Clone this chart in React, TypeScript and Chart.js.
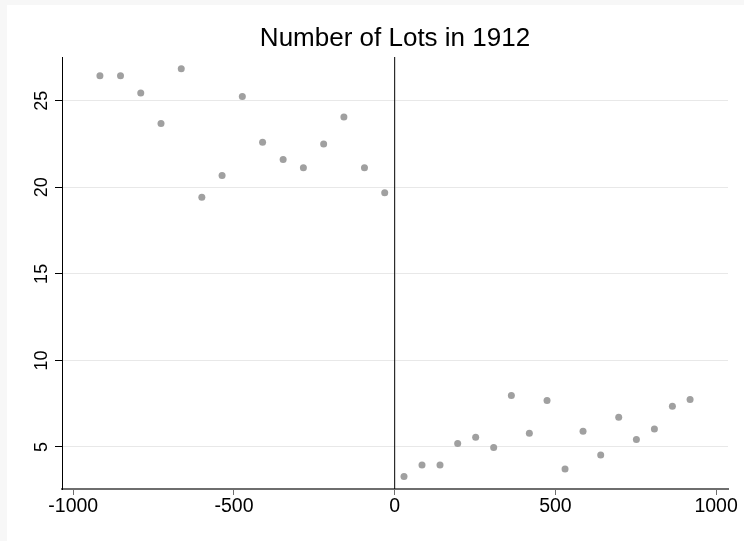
import React, { useEffect, useRef } from "react";
import { Chart, registerables } from "chart.js";

Chart.register(...registerables);

// Distance to the boundary (binned) and mean number of lots per bin
const distanceBins = [
  -917, -853, -790, -727, -664, -600, -537, -474, -411, -347, -284, -221, -158, -94, -31,
  29, 85, 141, 196, 252, 308, 363, 419, 474, 530, 586, 641, 697, 752, 808, 864, 919,
];
const lotCounts = [
  26.45, 26.45, 25.45, 23.69, 26.85, 19.42, 20.69, 25.25, 22.61, 21.61, 21.13, 22.51, 24.06, 21.13, 19.68,
  3.29, 3.96, 3.96, 5.2, 5.56, 4.97, 7.97, 5.79, 7.68, 3.73, 5.91, 4.54, 6.72, 5.43, 6.04, 7.35, 7.74,
];

const xTickValues = [-1000, -500, 0, 500, 1000];
const yTickValues = [5, 10, 15, 20, 25];
const xRange = [-1035, 1037];
const yRange = [2.57, 27.53];
const cutoff = 0;
const titleText = "Number of Lots in 1912";

const FONT = "'Liberation Sans', Arial, Helvetica, sans-serif";

export default function App() {
  const canvasRef = useRef<HTMLCanvasElement | null>(null);

  useEffect(() => {
    const canvas = canvasRef.current;
    if (!canvas) return;

    const points = distanceBins.map((x, i) => ({ x, y: lotCounts[i] }));

    const chart = new Chart(canvas, {
      type: "scatter",
      data: {
        datasets: [
          {
            label: "Lots",
            data: points,
            pointRadius: 3.5,
            pointHoverRadius: 3.5,
            pointBackgroundColor: "#a0a0a0",
            pointBorderWidth: 0,
            showLine: false,
            order: 1,
          },
          {
            type: "line",
            label: "Cutoff",
            data: [
              { x: cutoff, y: yRange[0] },
              { x: cutoff, y: yRange[1] },
            ],
            borderColor: "#000",
            borderWidth: 1,
            pointRadius: 0,
            showLine: true,
            order: 0,
          },
        ],
      },
      options: {
        responsive: false,
        animation: false,
        layout: { padding: { left: 0, top: 0, right: 16, bottom: 0 } },
        plugins: {
          legend: { display: false },
          tooltip: { enabled: false },
          title: {
            display: true,
            text: titleText,
            fullSize: false,
            color: "#000",
            font: { family: FONT, size: 26, weight: "normal", lineHeight: 1 },
            padding: { top: 26, bottom: 5 },
          },
        },
        scales: {
          x: {
            type: "linear",
            min: xRange[0],
            max: xRange[1],
            afterBuildTicks: (scale: any) => {
              scale.ticks = xTickValues.map((v) => ({ value: v }));
            },
            afterFit: (scale: any) => {
              scale.height = 52;
            },
            grid: {
              drawOnChartArea: false,
              drawTicks: true,
              tickLength: 6,
              tickColor: "#6e6e6e",
              tickWidth: 1,
            },
            border: { color: "#6e6e6e", width: 2 },
            ticks: {
              color: "#000",
              padding: 2,
              maxRotation: 0,
              font: { family: FONT, size: 19.5, lineHeight: 1 },
              callback: (v: any) => String(v),
            },
          },
          y: {
            type: "linear",
            min: yRange[0],
            max: yRange[1],
            afterBuildTicks: (scale: any) => {
              scale.ticks = yTickValues.map((v) => ({ value: v }));
            },
            afterFit: (scale: any) => {
              scale.width = 62;
            },
            grid: {
              color: "#e8e8e8",
              lineWidth: 1,
              drawTicks: true,
              tickLength: 7,
              tickColor: "#000",
              tickWidth: 1,
            },
            border: { color: "#000", width: 1 },
            ticks: {
              color: "#000",
              padding: 3,
              minRotation: 90,
              maxRotation: 90,
              crossAlign: "center",
              font: { family: FONT, size: 18, lineHeight: 1 },
              callback: (v: any) => String(v),
            },
          },
        },
      },
    });

    return () => chart.destroy();
  }, []);

  return (
    <div style={{ position: "fixed", left: 0, top: 0, width: 744, height: 541, background: "#f7f7f7" }}>
      <div style={{ position: "absolute", left: 7, top: 5, right: 0, bottom: 0, background: "#ffffff" }} />
      <canvas
        ref={canvasRef}
        width={744}
        height={541}
        style={{ position: "absolute", left: 0, top: 0, width: 744, height: 541 }}
      />
    </div>
  );
}
